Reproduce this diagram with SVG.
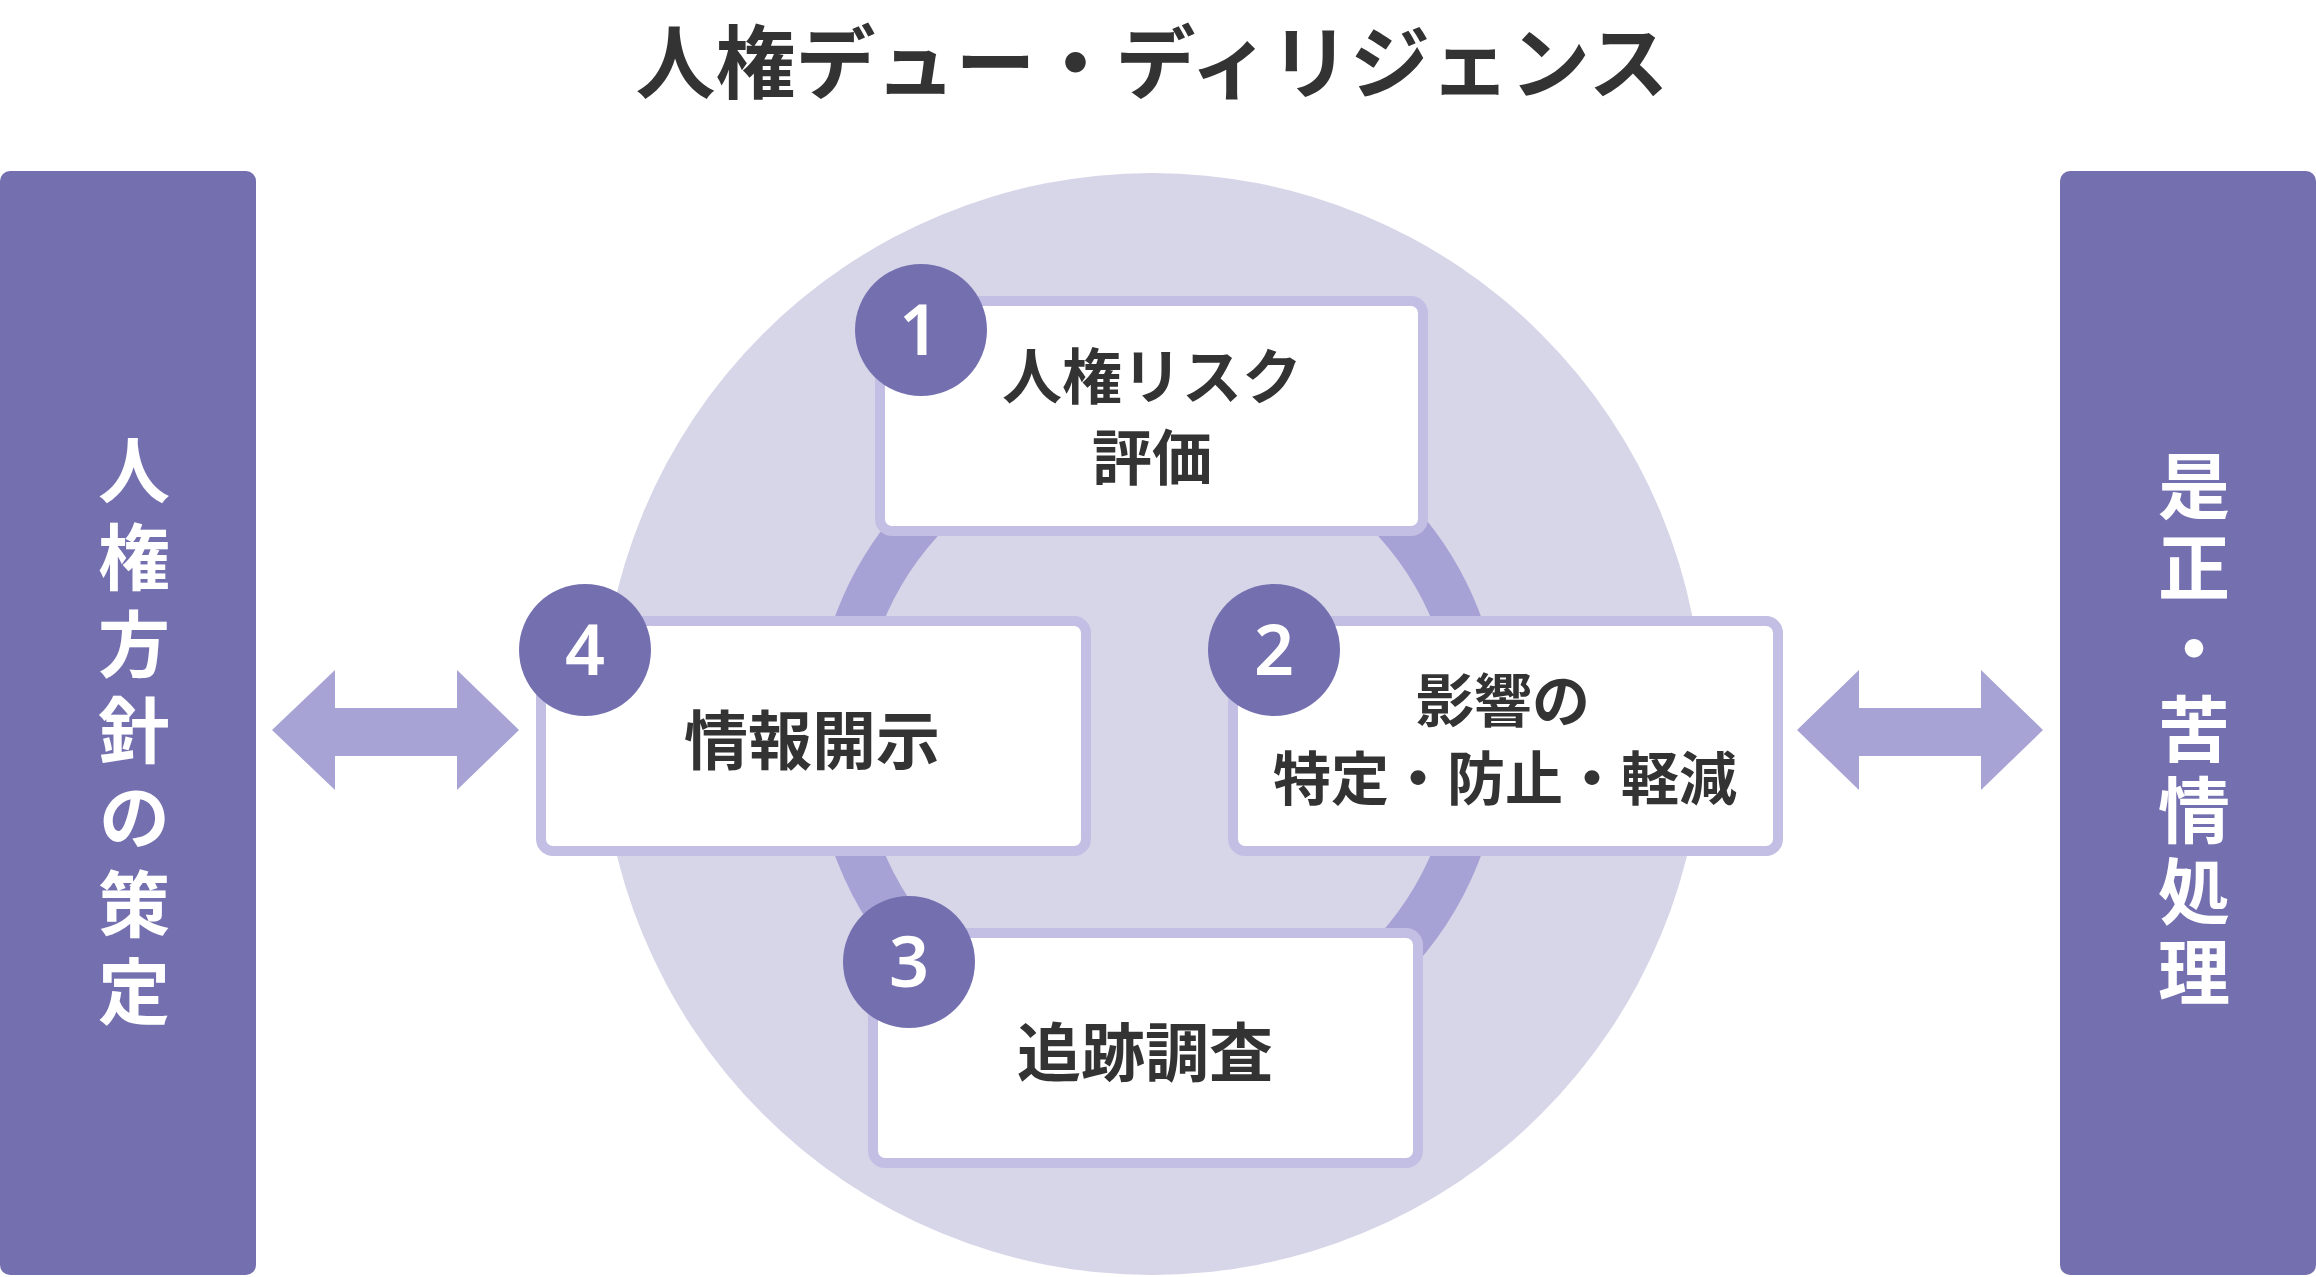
<svg xmlns="http://www.w3.org/2000/svg" width="2316" height="1277" viewBox="0 0 2316 1277">
  <style>
    .jp { font-family: "Noto Sans CJK JP", "Noto Sans", sans-serif; font-weight: 700; }
    .title { fill: #333333; font-size: 80px; }
    .panel { fill: #7470B0; }
    .ptext { fill: #FFFFFF; font-size: 72px; writing-mode: vertical-rl; }
    .box { fill: #FFFFFF; stroke: #C3BEE3; stroke-width: 10; }
    .btext { fill: #333333; }
    .num { fill: #7470B0; }
    .ntext { fill: #FFFFFF; font-family: "Noto Sans", "Open Sans", sans-serif; font-weight: 600; font-size: 70px; }
    .arrow { fill: #A7A3D5; }
  </style>
  <rect width="2316" height="1277" fill="#FFFFFF"/>

  <text id="title" class="jp title" x="1152" y="92" text-anchor="middle">人権デュー・ディリジェンス</text>

  <g id="background">
    <circle cx="1152" cy="724" r="551" fill="#D7D5E8"/>
    <circle cx="1158" cy="736" r="321" fill="none" stroke="#A7A2D5" stroke-width="47"/>
  </g>

  <g id="policy">
    <rect class="panel" x="0" y="171" width="256" height="1104" rx="10"/>
    <text class="jp ptext" x="134" y="434" letter-spacing="14.7">人権方針の策定</text>
  </g>

  <g id="remedy">
    <rect class="panel" x="2060" y="171" width="256" height="1104" rx="10"/>
    <text class="jp ptext" x="2194" y="450" letter-spacing="9">是正・苦情処理</text>
  </g>

  <g id="connectors">
    <polygon class="arrow" points="272,730 335,670 335,708 457,708 457,670 519,730 457,790 457,756 335,756 335,790"/>
    <polygon class="arrow" points="1797,730 1859,670 1859,708 1981,708 1981,670 2043,730 1981,790 1981,756 1859,756 1859,790"/>
  </g>

  <g id="step1">
    <rect class="box" x="880" y="301" width="543" height="230" rx="12"/>
    <circle class="num" cx="921" cy="330" r="66"/>
    <text class="ntext" x="919" y="355" text-anchor="middle">1</text>
    <text class="jp btext" font-size="60" text-anchor="middle"><tspan x="1152" y="399">人権リスク</tspan><tspan x="1152" y="480">評価</tspan></text>
  </g>

  <g id="step2">
    <rect class="box" x="1233" y="621" width="545" height="230" rx="12"/>
    <circle class="num" cx="1274" cy="650" r="66"/>
    <text class="ntext" x="1274" y="675" text-anchor="middle">2</text>
    <text class="jp btext" font-size="58" text-anchor="middle"><tspan x="1503" y="722">影響の</tspan><tspan x="1505" y="800">特定・防止・軽減</tspan></text>
  </g>

  <g id="step3">
    <rect class="box" x="873" y="933" width="545" height="230" rx="12"/>
    <circle class="num" cx="909" cy="962" r="66"/>
    <text class="ntext" x="909" y="987" text-anchor="middle">3</text>
    <text class="jp btext" font-size="64" x="1145" y="1076" text-anchor="middle">追跡調査</text>
  </g>

  <g id="step4">
    <rect class="box" x="541" y="621" width="545" height="230" rx="12"/>
    <circle class="num" cx="585" cy="650" r="66"/>
    <text class="ntext" x="585" y="675" text-anchor="middle">4</text>
    <text class="jp btext" font-size="64" x="812" y="764" text-anchor="middle">情報開示</text>
  </g>
</svg>
